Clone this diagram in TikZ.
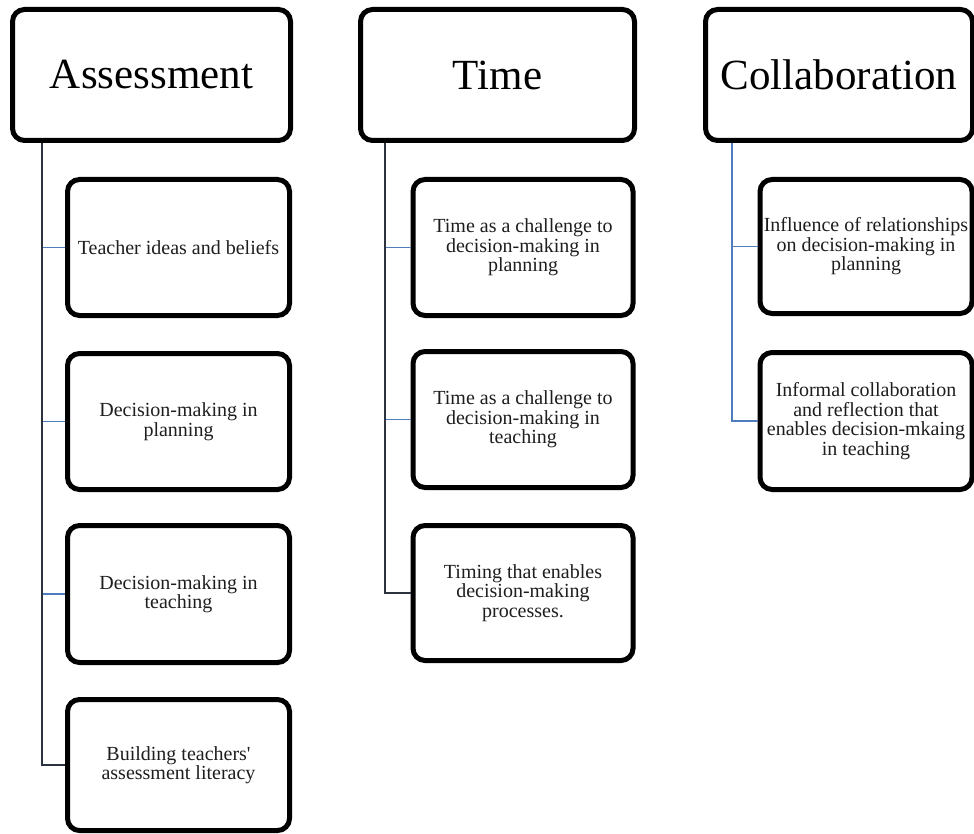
\documentclass[tikz,border=0pt]{standalone}
\usepackage{fontspec}
\setmainfont{Liberation Serif}
\definecolor{trunkcol}{HTML}{2B3340}
\definecolor{branchcol}{HTML}{4F7DBB}
\definecolor{textcol}{HTML}{1E1E1E}
\begin{document}
\begin{tikzpicture}[x=1pt,y=-1pt,
  box/.style={draw=black, line width=5pt, rounded corners=12pt, fill=white,
    inner sep=0pt, align=center, text=textcol},
  headbox/.style={box, font=\fontsize{43}{46}\selectfont, text=black},
  itembox/.style={box, font=\fontsize{20}{19.5}\selectfont},
  trunk/.style={draw=trunkcol, line width=1.8pt},
  branch/.style={draw=branchcol, line width=1.8pt},
  ctrunk/.style={draw=branchcol, line width=1.8pt}]
\useasboundingbox (0,0) rectangle (974,834);
\begin{scope}
\clip (0,0) rectangle (974,834);

% headers
\node[headbox, minimum width=278pt, minimum height=131pt] (ass) at (151.5,75) {Assessment};
\node[headbox, minimum width=274pt, minimum height=131pt] (tim) at (497.5,75) {Time};
\node[headbox, minimum width=267pt, minimum height=131pt] (col) at (839,75) {Collaboration};

% Assessment items
\node[itembox, minimum width=222pt, minimum height=136pt] (a1) at (178.5,247.5) {Teacher ideas and beliefs};
\node[itembox, minimum width=222pt, minimum height=136pt] (a2) at (178.5,421.5) {Decision-making in\\planning};
\node[itembox, minimum width=222pt, minimum height=137pt] (a3) at (178.5,594) {Decision-making in\\teaching};
\node[itembox, minimum width=222pt, minimum height=131pt] (a4) at (178.5,765) {Building teachers\textquotesingle\\assessment literacy};

% Time items
\node[itembox, minimum width=220pt, minimum height=136pt] (t1) at (523,247.5) {Time as a challenge to\\decision-making in\\planning};
\node[itembox, minimum width=220pt, minimum height=136pt] (t2) at (523,419.5) {Time as a challenge to\\decision-making in\\teaching};
\node[itembox, minimum width=220pt, minimum height=135pt] (t3) at (523,593) {Timing that enables\\decision-making\\processes.};

% Collaboration items
\node[itembox, minimum width=212pt, minimum height=134pt] (c1) at (866,246.5) {Influence of relationships\\on decision-making in\\planning};
\node[itembox, minimum width=212pt, minimum height=137pt] (c2) at (866,421) {Informal collaboration\\and reflection that\\enables decision-mkaing\\in teaching};

% Assessment connectors
\coordinate (atop) at ([xshift=-109.5pt]ass.south);
\draw[branch] (atop |- a1.west) -- (a1.west);
\draw[branch] (atop |- a2.west) -- (a2.west);
\draw[branch] (atop |- a3.west) -- (a3.west);
\draw[trunk] (atop) -- (atop |- a4.west) -- (a4.west);

% Time connectors
\coordinate (ttop) at ([xshift=-112.5pt]tim.south);
\draw[branch] (ttop |- t1.west) -- (t1.west);
\draw[branch] (ttop |- t2.west) -- (t2.west);
\draw[trunk] (ttop) -- (ttop |- t3.west) -- (t3.west);

% Collaboration connectors
\coordinate (ctop) at ([xshift=-107pt]col.south);
\draw[branch] (ctop |- c1.west) -- (c1.west);
\draw[ctrunk] (ctop) -- (ctop |- c2.west) -- (c2.west);
\end{scope}
\end{tikzpicture}
\end{document}
